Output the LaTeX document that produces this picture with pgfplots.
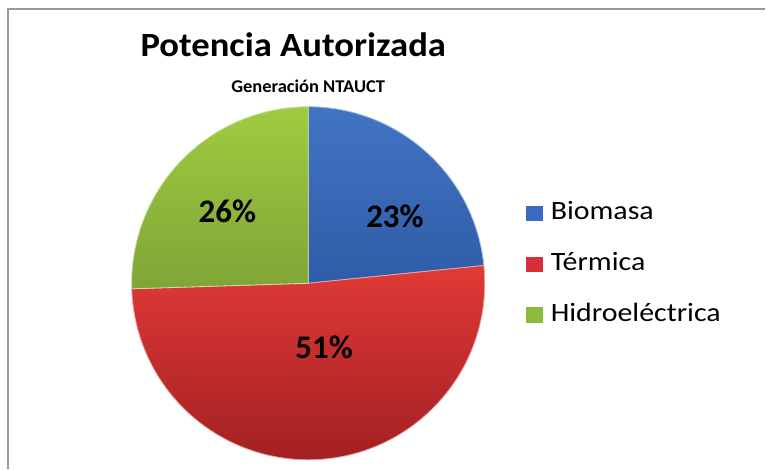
\documentclass[border=0pt]{standalone}
\usepackage{pgfplots}
\usepackage{pgfplotstable}
\pgfplotsset{compat=1.18}
\usepackage{fontspec}
\setmainfont{Carlito}

\definecolor{bioTop}{HTML}{4274C4}
\definecolor{bioBot}{HTML}{2F5CA8}
\definecolor{terTop}{HTML}{E03A36}
\definecolor{terBot}{HTML}{A11F22}
\definecolor{hidTop}{HTML}{A0CB40}
\definecolor{hidBot}{HTML}{7FA536}
\definecolor{bioC}{HTML}{3A6BC0}
\definecolor{terC}{HTML}{D3303A}
\definecolor{hidC}{HTML}{8FBB3C}
\definecolor{frameC}{HTML}{9A9A9A}

\pgfplotstableread{
name value
Biomasa 23.4
Termica 51.1
Hidroelectrica 25.5
}\piedata

\pgfplotstablegetelem{0}{value}\of\piedata \let\vA\pgfplotsretval
\pgfplotstablegetelem{1}{value}\of\piedata \let\vB\pgfplotsretval
\pgfplotstablegetelem{2}{value}\of\piedata \let\vC\pgfplotsretval
\pgfmathsetmacro{\aA}{90}
\pgfmathsetmacro{\aB}{\aA-3.6*\vA}
\pgfmathsetmacro{\aC}{\aB-3.6*\vB}
\pgfmathsetmacro{\aD}{\aC-3.6*\vC}

\newcommand{\legtxt}[1]{\scalebox{1.13}[1]{#1}}

\begin{document}
\begin{tikzpicture}
\begin{axis}[
  x=1pt, y=1pt,
  xmin=0, xmax=766, ymin=0, ymax=470,
  hide axis, clip=false,
  legend image code/.code={\fill[#1, draw=none] (0pt,-7.5pt) rectangle (17pt,8pt);},
  legend style={at={(axis cs:527,470-202)}, anchor=north west, draw=none, fill=none,
    font=\fontsize{26.5}{30}\selectfont, row sep=27pt, inner sep=0pt,
    nodes={inner ysep=0pt, inner xsep=4pt, text height=18pt, text depth=6pt}},
  legend cell align=left,
]
\path (axis cs:0,0) rectangle (axis cs:766,470);
\draw[frameC, line width=2pt] (axis cs:8,0) -- (axis cs:8,461) -- (axis cs:767,461);

\addplot[forget plot, draw=white!55!bioC, line width=0.8pt, top color=bioTop, bottom color=bioBot]
  coordinates {(309,186)} -- ++(\aA:177pt) arc[start angle=\aA, end angle=\aB, radius=177pt] -- cycle;
\addplot[forget plot, draw=white!55!terC, line width=0.8pt, top color=terTop, bottom color=terBot]
  coordinates {(309,186)} -- ++(\aB:177pt) arc[start angle=\aB, end angle=\aC, radius=177pt] -- cycle;
\addplot[forget plot, draw=white!55!hidC, line width=0.8pt, top color=hidTop, bottom color=hidBot]
  coordinates {(309,186)} -- ++(\aC:177pt) arc[start angle=\aC, end angle=\aD, radius=177pt] -- cycle;

\addlegendimage{fill=bioC, draw=none}
\addlegendentry{\hspace{4pt}\legtxt{Biomasa}}
\addlegendimage{fill=terC, draw=none}
\addlegendentry{\hspace{4pt}\legtxt{Térmica}}
\addlegendimage{fill=hidC, draw=none}
\addlegendentry{\hspace{4pt}\legtxt{Hidroeléctrica}}

\node[font=\fontsize{33}{36}\selectfont\bfseries] at (axis cs:396,470-217) {23\%};
\node[font=\fontsize{33}{36}\selectfont\bfseries] at (axis cs:228,470-212) {26\%};
\node[font=\fontsize{33}{36}\selectfont\bfseries] at (axis cs:325,470-348) {51\%};

\node[anchor=base, font=\fontsize{34}{38}\selectfont\bfseries] at (axis cs:294,470-57) {\scalebox{1.08}[1]{Potencia Autorizada}};
\node[anchor=base, font=\fontsize{18}{21}\selectfont\bfseries] at (axis cs:309,470-93) {\scalebox{1.03}[1]{Generación NTAUCT}};
\end{axis}
\end{tikzpicture}
\end{document}
